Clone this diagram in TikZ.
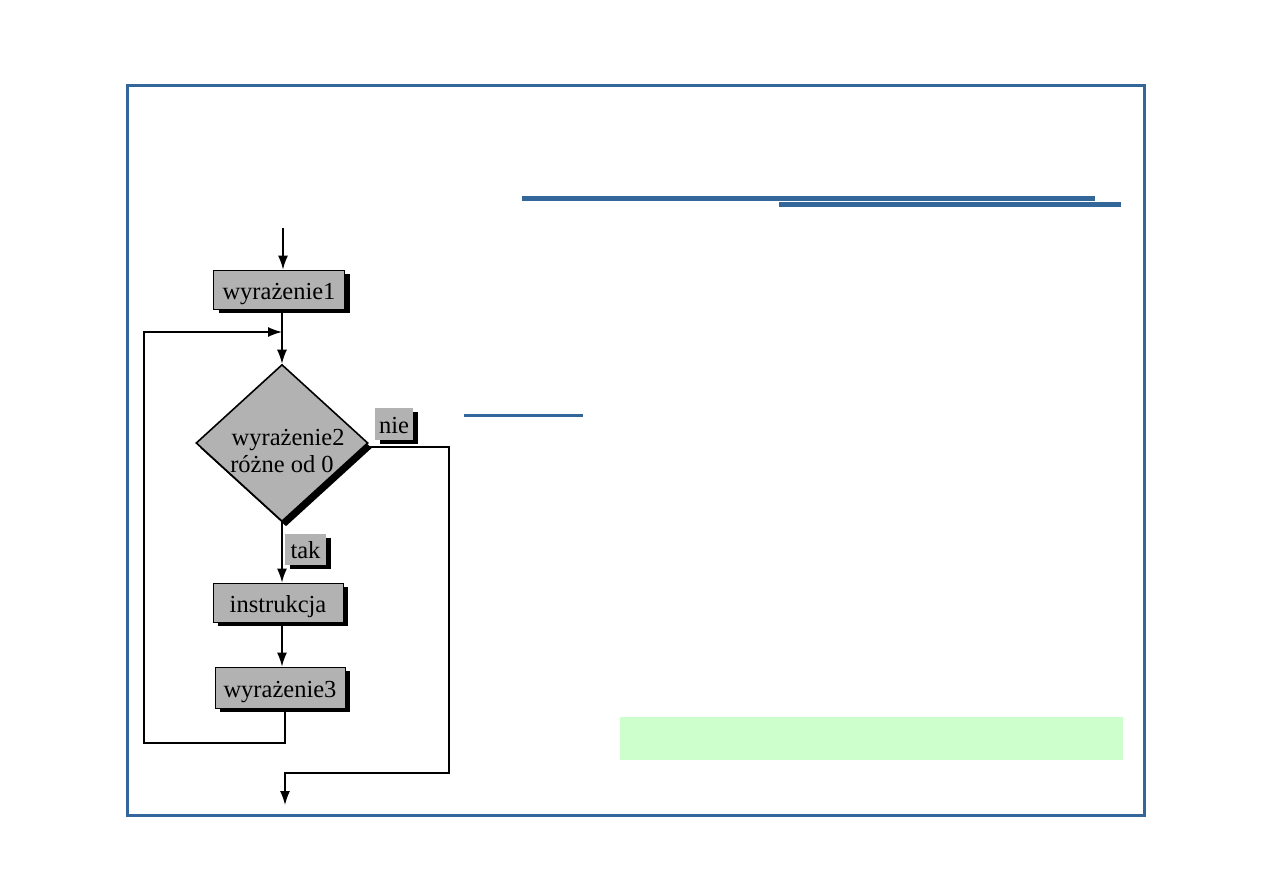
\documentclass[tikz,border=0pt]{standalone}
\usepackage{fontspec}
\setmainfont{Liberation Serif}
\usetikzlibrary{shapes.geometric,shadows,arrows.meta,calc}
\definecolor{frameblue}{RGB}{51,102,153}
\definecolor{boxgray}{RGB}{178,178,178}
\definecolor{notegreen}{RGB}{204,255,204}
\tikzset{
  blk/.style={draw=black, line width=0.8pt, fill=boxgray, inner sep=0pt,
    general shadow={fill=black, shadow xshift=5pt, shadow yshift=-4pt},
    font=\fontsize{24.5}{28}\selectfont, text height=20pt, text depth=0pt},
  lbl/.style={fill=boxgray, inner sep=0pt,
    general shadow={fill=black, shadow xshift=5pt, shadow yshift=-4pt},
    font=\fontsize{24.5}{28}\selectfont, text height=18pt, text depth=0pt},
  dec/.style={diamond, draw=black, line width=1.6pt, fill=boxgray, inner sep=0pt,
    minimum width=172pt, minimum height=157pt, aspect=1.1,
    general shadow={fill=black, shadow xshift=4pt, shadow yshift=-5pt},
    font=\fontsize{24.5}{28}\selectfont, align=center},
  conn/.style={line width=1.5pt},
  arr/.style={conn, -{Latex[length=14pt,width=10pt]}},
  bluebar/.style={fill=frameblue}
}
\begin{document}
\begin{tikzpicture}[x=1pt,y=-1pt]
\useasboundingbox (0,0) rectangle (1263,893);
% frame
\draw[frameblue, line width=3pt] (127,86) rectangle (1144,815);
% blue bars
\fill[bluebar] (522,196) rectangle (1095,201);
\fill[bluebar] (779,202) rectangle (1121,207);
\fill[bluebar] (464,414) rectangle (583,417);
% green box
\fill[notegreen] (620,717) rectangle (1123,760);

% nodes
\node[blk, minimum width=131pt, minimum height=39pt] (w1) at (279,289.5) {wyrażenie1};
\node[dec] (d) at (282,443) {};
\node[font=\fontsize{24.5}{27}\selectfont, align=center, inner sep=0pt] (dt) at (282,451) {\hspace*{0.5em}wyrażenie2\\różne od 0};
\node[lbl, minimum width=38pt, minimum height=32pt] (nie) at (394,424) {nie};
\node[lbl, minimum width=41pt, minimum height=31pt] (tak) at (305.5,549.5) {tak};
\node[blk, minimum width=130pt, minimum height=39pt] (ins) at (278,602.5) {instrukcja};
\node[blk, minimum width=130pt, minimum height=41pt] (w3) at (280,687.5) {wyrażenie3};

\coordinate (in) at (283,228);
\coordinate (lb) at (144,743);
\coordinate (lt) at (282,332);
\coordinate (rb) at (449,773);
\coordinate (out) at (285,805);

% connectors
\draw[arr] (in) -- (in |- w1.north);
\draw[arr] (w1.south -| d.north) -- (d.north);
\draw[arr] ($(w3.south)+(5,0)$) |- (lb) |- (lt);
\draw[arr] (d.south) -- (d.south |- ins.north);
\draw[arr] (ins.south -| d.south) -- (d.south |- w3.north);
\draw[arr] ([yshift=-4pt]d.east) -| (rb) -| (out);
\end{tikzpicture}
\end{document}
